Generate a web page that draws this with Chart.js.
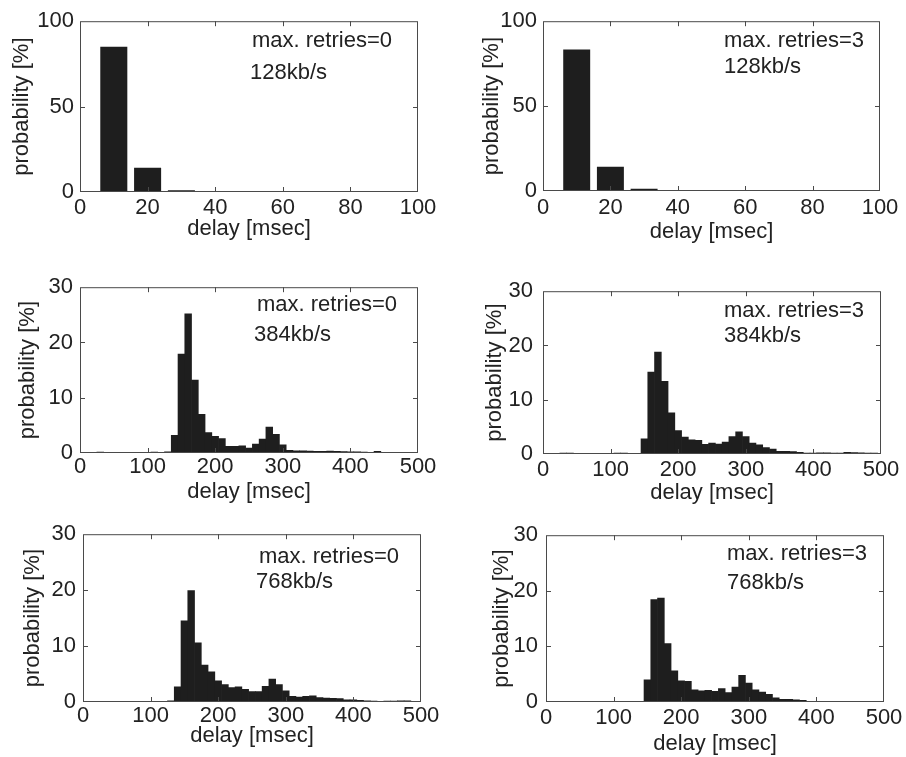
<!DOCTYPE html>
<html lang="en">
<head>
  <meta charset="UTF-8" />
  <title>Delay histograms</title>
  <script src="https://cdn.jsdelivr.net/npm/chart.js"></script>
  <style>
    html, body { margin: 0; padding: 0; background: #fff; }
    .fig { position: relative; width: 906px; height: 757px; overflow: hidden; }
    .fig canvas { position: absolute; }
  </style>
</head>
<body>
  <div class="fig" id="fig"></div>

  <script>
    // ---- data (probability in %) ----
    const bins128 = [10, 20, 30, 40, 50, 60, 70, 80, 90];
    const bins500 = [0, 10, 20, 30, 40, 50, 60, 70, 80, 90, 100, 110, 120, 130, 140, 150, 160,
      170, 180, 190, 200, 210, 220, 230, 240, 250, 260, 270, 280, 290, 300, 310, 320, 330, 340,
      350, 360, 370, 380, 390, 400, 410, 420, 430, 440, 450, 460, 470, 480, 490, 500];

    const p128r0 = [85.0, 14.2, 1.0, 0, 0, 0, 0, 0, 0];
    const p128r3 = [83.4, 14.3, 1.3, 0.4, 0, 0, 0, 0, 0];

    const p384r0 = [0.05, 0.05, 0.1, 0.15, 0.1, 0.1, 0.1, 0.05, 0.05, 0.1, 0.1, 0.15, 0.1, 0.2,
      3.2, 17.9, 25.2, 13.2, 7.0, 3.7, 3.0, 2.6, 1.2, 1.2, 1.3, 0.9, 1.6, 2.5, 4.7, 3.4, 1.5,
      0.5, 0.4, 0.4, 0.35, 0.3, 0.3, 0.35, 0.3, 0.25, 0.2, 0.2, 0.15, 0.1, 0.3, 0.1, 0.05,
      0.05, 0.05, 0.05, 0.05];
    const p384r3 = [0.05, 0.1, 0.1, 0.15, 0.15, 0.1, 0.1, 0.1, 0.1, 0.1, 0.1, 0.15, 0.15, 0.1,
      0.1, 2.8, 15.1, 18.8, 13.4, 7.6, 4.3, 3.1, 2.6, 2.5, 1.8, 2.0, 1.85, 2.2, 3.2, 4.1, 3.2,
      2.0, 1.7, 1.2, 0.9, 0.5, 0.5, 0.45, 0.3, 0.15, 0.15, 0.2, 0.2, 0.15, 0.15, 0.3, 0.25,
      0.2, 0.15, 0.15, 0.1];
    const p768r0 = [0.05, 0.05, 0.05, 0.1, 0.05, 0.1, 0.05, 0.05, 0.1, 0.05, 0.05, 0.05, 0.05,
      0.2, 2.7, 14.5, 19.9, 10.6, 6.6, 5.4, 3.8, 3.1, 2.6, 2.7, 2.25, 1.85, 1.85, 2.8, 4.1,
      3.1, 2.0, 1.0, 0.9, 1.0, 1.1, 0.8, 0.7, 0.65, 0.6, 0.4, 0.4, 0.3, 0.2, 0.15, 0.1, 0.15,
      0.15, 0.2, 0.2, 0.1, 0.05];
    const p768r3 = [0.05, 0.05, 0.05, 0.1, 0.05, 0.1, 0.05, 0.05, 0.05, 0.05, 0.05, 0.05, 0.05,
      0.05, 0.05, 4.0, 18.4, 18.7, 10.5, 5.6, 3.8, 3.7, 2.2, 2.0, 2.1, 1.9, 2.4, 1.7, 2.7, 4.8,
      3.4, 2.2, 1.8, 1.4, 0.75, 0.5, 0.5, 0.4, 0.3, 0.1, 0.05, 0.1, 0.1, 0.05, 0.05, 0.1, 0.05,
      0.05, 0.1, 0.05, 0.05];

    const retryLabels = ['max. retries=0', 'max. retries=3'];
    const rateLabels = ['128kb/s', '384kb/s', '768kb/s'];
    const xTitle = 'delay [msec]';
    const yTitle = 'probability [%]';

    // ---- panel layout (plot box in page px) ----
    const FONT = '"Liberation Sans", Arial, sans-serif';
    const FS = 22;
    const panels = [
      { bins: bins128, vals: p128r0, xmax: 100, xstep: 20, ymax: 100, ystep: 50, bar: 0.8,
        retry: 0, rate: 0, box: [80, 16, 418, 192], yw: 71, yPad: 6, xPad: 3, xh: 50,
        t1: [172, 26], t2: [170, 58] },
      { bins: bins128, vals: p128r3, xmax: 100, xstep: 20, ymax: 100, ystep: 50, bar: 0.8,
        retry: 1, rate: 0, box: [543, 16, 880, 191], yw: 64, yPad: 6, xPad: 4, xh: 54,
        t1: [181, 26], t2: [181, 52] },
      { bins: bins500, vals: p384r0, xmax: 500, xstep: 100, ymax: 30, ystep: 10, bar: 1,
        retry: 0, rate: 1, box: [80, 281, 418, 453], yw: 65, yPad: 7, xPad: 1, xh: 52,
        t1: [177, 24], t2: [174, 54] },
      { bins: bins500, vals: p384r3, xmax: 500, xstep: 100, ymax: 30, ystep: 10, bar: 1,
        retry: 1, rate: 1, box: [543, 282, 881, 454], yw: 61, yPad: 10, xPad: 3, xh: 52,
        t1: [181, 26], t2: [181, 51] },
      { bins: bins500, vals: p768r0, xmax: 500, xstep: 100, ymax: 30, ystep: 10, bar: 1,
        retry: 0, rate: 2, box: [83, 528, 421, 702], yw: 63, yPad: 7, xPad: 1, xh: 47,
        t1: [176, 29], t2: [173, 54] },
      { bins: bins500, vals: p768r3, xmax: 500, xstep: 100, ymax: 30, ystep: 10, bar: 1,
        retry: 1, rate: 2, box: [546, 528, 884, 702], yw: 57, yPad: 8, xPad: 3, xh: 55,
        t1: [181, 25], t2: [181, 54] }
    ];

    const PAD_TOP = 14, PAD_RIGHT = 26;

    // box around the plot with inward tick marks, like the original figure
    const framePlugin = {
      id: 'frame',
      afterDraw(chart) {
        const { ctx, chartArea: a, scales } = chart;
        ctx.save();
        ctx.strokeStyle = '#4a4a4a';
        ctx.lineWidth = 1;
        ctx.strokeRect(a.left + 0.5, a.top + 0.5, a.right - a.left - 1, a.bottom - a.top - 1);
        const len = 5;
        ctx.beginPath();
        scales.x.ticks.forEach(t => {
          const px = Math.round(scales.x.getPixelForValue(t.value)) + 0.5;
          if (px <= a.left + 1 || px >= a.right - 1) return;
          ctx.moveTo(px, a.bottom); ctx.lineTo(px, a.bottom - len);
          ctx.moveTo(px, a.top); ctx.lineTo(px, a.top + len);
        });
        scales.y.ticks.forEach(t => {
          const py = Math.round(scales.y.getPixelForValue(t.value)) + 0.5;
          if (py <= a.top + 1 || py >= a.bottom - 1) return;
          ctx.moveTo(a.left, py); ctx.lineTo(a.left + len, py);
          ctx.moveTo(a.right, py); ctx.lineTo(a.right - len, py);
        });
        ctx.stroke();

        const o = chart.options.plugins.frame;
        ctx.fillStyle = '#222';
        ctx.font = FS + 'px ' + FONT;
        ctx.textAlign = 'left';
        ctx.textBaseline = 'alphabetic';
        ctx.fillText(o.line1, a.left + o.t1[0], a.top + o.t1[1]);
        ctx.fillText(o.line2, a.left + o.t2[0], a.top + o.t2[1]);
        ctx.restore();
      }
    };

    const fig = document.getElementById('fig');

    panels.forEach(p => {
      const [L, T, R, B] = p.box;
      const cv = document.createElement('canvas');
      const w = (R - L) + p.yw + PAD_RIGHT;
      const h = (B - T) + PAD_TOP + p.xh;
      cv.width = w; cv.height = h;
      cv.style.width = w + 'px'; cv.style.height = h + 'px';
      cv.style.left = (L - p.yw) + 'px';
      cv.style.top = (T - PAD_TOP) + 'px';
      fig.appendChild(cv);

      const ctx = cv.getContext('2d');
      ctx.letterSpacing = '0.7px';   // original lettering is a bit wider

      new Chart(ctx, {
        type: 'bar',
        data: {
          datasets: [{
            data: p.bins.map((b, i) => ({ x: b, y: p.vals[i] })),
            backgroundColor: '#1e1e1e',
            borderWidth: 0,
            barPercentage: p.bar,
            categoryPercentage: 1
          }]
        },
        options: {
          responsive: false,
          animation: false,
          layout: { padding: { top: PAD_TOP, right: PAD_RIGHT, left: 0, bottom: 0 } },
          plugins: {
            legend: { display: false },
            tooltip: { enabled: false },
            frame: { line1: retryLabels[p.retry], line2: rateLabels[p.rate], t1: p.t1, t2: p.t2 }
          },
          scales: {
            x: {
              type: 'linear', min: 0, max: p.xmax, offset: false,
              grid: { display: false, drawTicks: false },
              border: { display: false },
              ticks: { stepSize: p.xstep, padding: p.xPad, maxRotation: 0, color: '#222',
                font: { family: FONT, size: FS } },
              title: { display: true, text: xTitle, color: '#222', padding: 0,
                font: { family: FONT, size: FS } },
              afterFit(s) { s.height = p.xh; }
            },
            y: {
              min: 0, max: p.ymax,
              grid: { display: false, drawTicks: false },
              border: { display: false },
              ticks: { stepSize: p.ystep, padding: p.yPad, color: '#222',
                font: { family: FONT, size: FS } },
              title: { display: true, text: yTitle, color: '#222', padding: 0,
                font: { family: FONT, size: FS } },
              afterFit(s) { s.width = p.yw; }
            }
          }
        },
        plugins: [framePlugin]
      });
    });
  </script>
</body>
</html>
